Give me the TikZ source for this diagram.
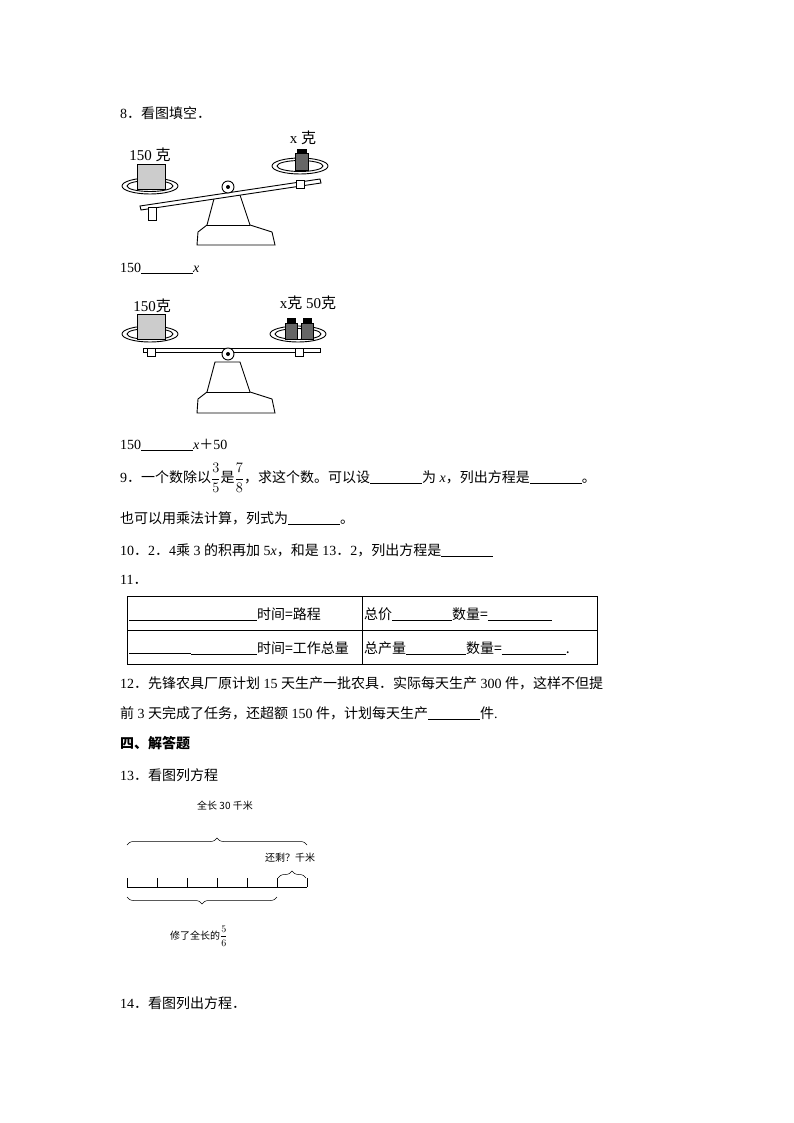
\documentclass[tikz,border=0pt]{standalone}
\usepackage{fontspec}
\usepackage{amsmath}
\setmainfont{Liberation Serif}
\newfontfamily\cjk{Noto Sans CJK SC}
\usetikzlibrary{decorations.pathreplacing}
\begin{document}
\begin{tikzpicture}[x=1pt,y=-1pt,
  txt/.style={anchor=west,inner sep=0pt,font=\fontsize{14}{16}\selectfont},
  lbl/.style={inner sep=0pt,font=\fontsize{15}{16}\selectfont},
  small/.style={inner sep=0pt,font=\cjk\fontsize{10}{12}\selectfont},
  tcell/.style={anchor=west,inner sep=0pt,font=\cjk\fontsize{14}{16}\selectfont},
  ln/.style={line width=0.6pt},
  pan/.style={draw,line width=0.9pt},
  brc/.style={decorate,decoration={brace,amplitude=7pt},line width=0.5pt}]
\useasboundingbox (0,0) rectangle (794,1123);
\def\bl{\rule[-1pt]{52pt}{0.5pt}}
\def\pt{{\cjk ．}}
\node[txt] (q8) at (120,113) {8\pt{\cjk 看图填空}\pt};
% balance 1
\begin{scope}[line width=0.9pt]
\draw (215,195) -- (207,225) -- (198,232) -- (197,245) -- (275,245) -- (272,232) -- (250,225) -- (240,195) -- cycle;
\draw (207,225) -- (250,225);
\draw[pan] (150,186) ellipse (28 and 8);
\draw[pan] (150,186) ellipse (23 and 5.5);
\draw[pan] (300,166) ellipse (28 and 8);
\draw[pan] (300,166) ellipse (23 and 5.5);
\draw[fill=white] (140,206) -- (320,179) -- (321,183) -- (141,210) -- cycle;
\draw[fill=white] (228,187) circle (6);
\fill (228,187) circle (2);
\draw[fill=white] (148,207) rectangle (156,220);
\draw[fill=white] (296,180) rectangle (304,188);
\draw[fill=gray!40] (137,164) rectangle (165,189);
\draw[fill=gray!80!black] (295,153) rectangle (308,170);
\draw[fill=black] (297,149) rectangle (306,153);
\end{scope}
\node[lbl] (a1) at (150,155) {150 {\cjk 克}};
\node[lbl] (b1) at (303,138) {x {\cjk 克}};
\node[txt] (l1) at (120,268) {150\bl\textit{x}};
% balance 2
\begin{scope}[line width=0.9pt]
\draw (215,362) -- (207,392) -- (198,399) -- (197,413) -- (275,413) -- (272,399) -- (250,392) -- (240,362) -- cycle;
\draw (207,392) -- (250,392);
\draw[pan] (150,334) ellipse (28 and 8);
\draw[pan] (150,334) ellipse (23 and 5.5);
\draw[pan] (298,334) ellipse (28 and 8);
\draw[pan] (298,334) ellipse (23 and 5.5);
\draw[fill=white] (143,348) rectangle (320,352);
\draw[fill=white] (228,354) circle (6);
\fill (228,354) circle (2);
\draw[fill=white] (147,348) rectangle (155,356);
\draw[fill=white] (295,348) rectangle (303,356);
\draw[fill=gray!40] (137,314) rectangle (165,339);
\draw[fill=gray!80!black] (285,323) rectangle (297,339);
\draw[fill=black] (287,318) rectangle (295,323);
\draw[fill=gray!80!black] (301,323) rectangle (313,339);
\draw[fill=black] (303,318) rectangle (311,323);
\end{scope}
\node[lbl] (a2) at (152,306) {150{\cjk 克}};
\node[lbl] (b2) at (308,303) {x{\cjk 克} 50{\cjk 克}};
\node[txt] (l2) at (120,445) {150\bl\textit{x}{\cjk ＋}50};
% Q9
\node[txt] (q9) at (120,478) {9\pt{\cjk 一个数除以}$\dfrac{3}{5}${\cjk 是}$\dfrac{7}{8}${\cjk ，求这个数。可以设}\bl{\cjk 为} \textit{x}{\cjk ，列出方程是}\bl{\cjk 。}};
\node[txt] (q9b) at (120,518) {{\cjk 也可以用乘法计算，列式为}\bl{\cjk 。}};
\node[txt] (q10) at (120,550) {10\pt 2\pt 4{\cjk 乘} 3 {\cjk 的积再加} 5\textit{x}{\cjk ，和是} 13\pt 2{\cjk ，列出方程是}\bl};
\node[txt] (q11) at (120,580) {11\pt};
% table
\draw[line width=0.8pt] (127,596) rectangle (597,664);
\draw[line width=0.8pt] (127,630) -- (597,630) (362,596) -- (362,664);
\node[tcell] (c1) at (129,614) {\rule[-1pt]{128pt}{0.5pt}时间=路程};
\node[tcell] (c2) at (364,614) {总价\rule[-1pt]{60pt}{0.5pt}数量=\rule[-1pt]{64pt}{0.5pt}};
\node[tcell] (c3) at (129,648) {\rule[-1pt]{62pt}{1.2pt}\rule[-1pt]{66pt}{0.5pt}时间=工作总量};
\node[tcell] (c4) at (364,648) {总产量\rule[-1pt]{60pt}{0.5pt}数量=\rule[-1pt]{64pt}{0.5pt}.};
\node[txt] (q12) at (120,683) {12\pt{\cjk 先锋农具厂原计划} 15 {\cjk 天生产一批农具．实际每天生产} 300 {\cjk 件，这样不但提}};
\node[txt] (q12b) at (120,713) {{\cjk 前} 3 {\cjk 天完成了任务，还超额} 150 {\cjk 件，计划每天生产}\bl{\cjk 件}.};
\node[txt,font=\cjk\bfseries\fontsize{14}{16}\selectfont] (s4) at (120,743) {四、解答题};
\node[txt] (q13) at (120,775) {13\pt{\cjk 看图列方程}};
% diagram
\node[small] (tot) at (225,806) {全长 30 千米};
\coordinate (L) at (127,887); \coordinate (R) at (307,887); \coordinate (M) at (277,887);
\draw[ln] (L) -- (R);
\foreach \x in {127,157,187,217,247,277} \draw[ln] (\x,887) -- (\x,878);
\draw[ln] (307,887) -- (307,878);
\draw[brc] (127,845) -- (307,845);
\draw[brc] (278,878) -- (306,878);
\draw[brc] (277,897) -- (127,897);
\node[small] (rem) at (290,858) {还剩？千米};
\node[small,anchor=west] (done) at (170,936) {修了全长的\fontsize{10}{10}\selectfont$\genfrac{}{}{0.4pt}{0}{5}{6}$};
\node[txt] (q14) at (120,1003) {14\pt{\cjk 看图列出方程}\pt};
\end{tikzpicture}
\end{document}
